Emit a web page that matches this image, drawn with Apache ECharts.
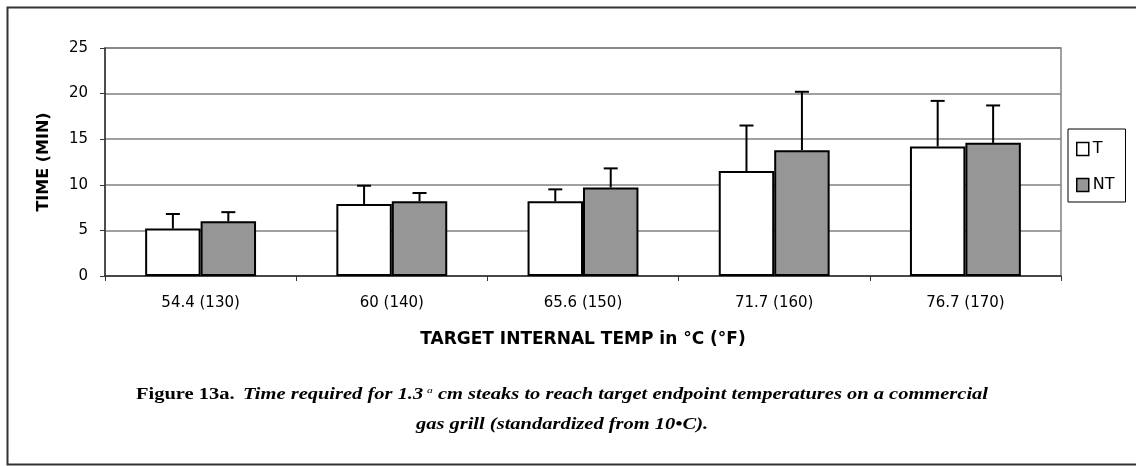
<!DOCTYPE html>
<html>
<head>
<meta charset="utf-8">
<script src="https://cdn.jsdelivr.net/npm/echarts@6/dist/echarts.min.js"></script>
<style>
  html, body { margin: 0; padding: 0; background: #fff; }
  #chart { width: 1136px; height: 466px; }
</style>
</head>
<body>
<div id="chart"></div>
<script>
const categories = ['54.4 (130)', '60 (140)', '65.6 (150)', '71.7 (160)', '76.7 (170)'];
const seriesNames = ['T', 'NT'];
const tValues = [5.2, 7.9, 8.2, 11.5, 14.2];
const ntValues = [6.0, 8.2, 9.7, 13.8, 14.6];
const tErrorTop = [6.8, 9.9, 9.5, 16.5, 19.2];
const ntErrorTop = [7.0, 9.1, 11.8, 20.2, 18.7];
const yTicks = { min: 0, max: 25, interval: 5 };
const xTitle = 'TARGET INTERNAL TEMP in °C (°F)';
const yTitle = 'TIME (MIN)';
const captionLead = 'Figure 13a.';
const captionLine1a = 'Time required for 1.3';
const captionSup = 'a';
const captionLine1b = ' cm steaks to reach target endpoint temperatures on a commercial';
const captionLine2 = 'gas grill (standardized from 10•C).';

const chart = echarts.init(document.getElementById('chart'), null, { renderer: 'canvas' });
const GAP = 0.42;
const SANS = 'DejaVu Sans, Liberation Sans, Arial, sans-serif';
const SERIF = 'Liberation Serif, Times New Roman, serif';

function errorSeries(name, values, tops, side) {
  return {
    type: 'custom',
    name: name + ' err',
    silent: true,
    z: 5,
    renderItem: function (params, api) {
      const idx = api.value(0);
      const base = api.coord([idx, api.value(1)]);
      const top = api.coord([idx, api.value(2)]);
      const band = api.size([1, 0])[0];
      const bw = band * (1 - GAP) / 2;
      const x = base[0] + side * bw / 2;
      const cap = 7;
      const style = { stroke: '#000', lineWidth: 2, fill: null };
      return {
        type: 'group',
        children: [
          { type: 'line', shape: { x1: x, y1: base[1], x2: x, y2: top[1] }, style: style },
          { type: 'line', shape: { x1: x - cap, y1: top[1], x2: x + cap, y2: top[1] }, style: style }
        ]
      };
    },
    data: values.map((v, i) => [i, v, tops[i]])
  };
}

const option = {
  animation: false,
  backgroundColor: '#fff',
  textStyle: { fontFamily: SANS },
  grid: {
    left: 105, right: 75, top: 48, bottom: 190,
    show: true, borderColor: '#808080', borderWidth: 1.5, backgroundColor: 'transparent'
  },
  legend: {
    orient: 'vertical',
    left: 1068, top: 129,
    padding: [12, 11, 9, 8],
    itemGap: 20,
    itemWidth: 12, itemHeight: 13,
    borderColor: '#000', borderWidth: 1,
    icon: 'rect',
    data: seriesNames,
    textStyle: { fontSize: 16, color: '#000', fontFamily: SANS, padding: [0, 0, 4, -1] },
    itemStyle: { borderColor: '#000', borderWidth: 1.5 }
  },
  xAxis: {
    type: 'category',
    data: categories,
    axisLine: { lineStyle: { color: '#333', width: 1.5 } },
    axisTick: { show: true, length: 5, lineStyle: { color: '#333', width: 1 } },
    axisLabel: { fontSize: 15, color: '#000', margin: 20, fontFamily: SANS },
    name: xTitle,
    nameLocation: 'middle',
    nameGap: 55,
    nameTextStyle: { fontSize: 17, fontWeight: 'bold', color: '#000', fontFamily: SANS }
  },
  yAxis: {
    type: 'value',
    min: yTicks.min, max: yTicks.max, interval: yTicks.interval,
    axisLine: { show: true, lineStyle: { color: '#333', width: 1.5 } },
    axisTick: { show: true, length: 5, lineStyle: { color: '#333' } },
    axisLabel: { fontSize: 15, color: '#000', margin: 17, fontFamily: SANS },
    splitLine: { lineStyle: { color: '#808080', width: 1.5 } },
    name: yTitle,
    nameLocation: 'middle',
    nameGap: 53,
    nameTextStyle: { fontSize: 16, fontWeight: 'bold', color: '#000', fontFamily: SANS }
  },
  series: [
    {
      type: 'bar', name: seriesNames[0], data: tValues,
      barGap: '0%', barCategoryGap: (GAP * 100) + '%',
      itemStyle: { color: '#ffffff', borderColor: '#000', borderWidth: 2 },
      z: 3
    },
    {
      type: 'bar', name: seriesNames[1], data: ntValues,
      barGap: '0%', barCategoryGap: (GAP * 100) + '%',
      itemStyle: { color: '#969696', borderColor: '#000', borderWidth: 2 },
      z: 3
    },
    errorSeries('T', tValues, tErrorTop, -1),
    errorSeries('NT', ntValues, ntErrorTop, 1)
  ],
  graphic: [
    {
      type: 'rect', silent: true,
      shape: { x: 7.5, y: 7.5, width: 1140, height: 457 },
      style: { fill: null, stroke: '#333', lineWidth: 2 }
    },
    {
      type: 'text', silent: true,
      x: 562, y: 395, scaleX: 1.28, scaleY: 1,
      style: {
        text: '{b|' + captionLead + '}  {i|' + captionLine1a + '}{sup|' + captionSup + '}{i|' + captionLine1b + '}',
        textAlign: 'center', textVerticalAlign: 'middle',
        rich: {
          b: { fontFamily: SERIF, fontWeight: 'bold', fontSize: 16, fill: '#000' },
          i: { fontFamily: SERIF, fontWeight: 'bold', fontStyle: 'italic', fontSize: 16, fill: '#000' },
          sup: { fontFamily: SERIF, fontStyle: 'italic', fontSize: 9, fill: '#000', padding: [0, 0, 9, 3] }
        }
      }
    },
    {
      type: 'text', silent: true,
      x: 562, y: 425, scaleX: 1.28, scaleY: 1,
      style: {
        text: captionLine2,
        textAlign: 'center', textVerticalAlign: 'middle',
        fontFamily: SERIF,
        fontWeight: 'bold', fontStyle: 'italic', fontSize: 16, fill: '#000'
      }
    }
  ]
};
chart.setOption(option);
</script>
</body>
</html>
